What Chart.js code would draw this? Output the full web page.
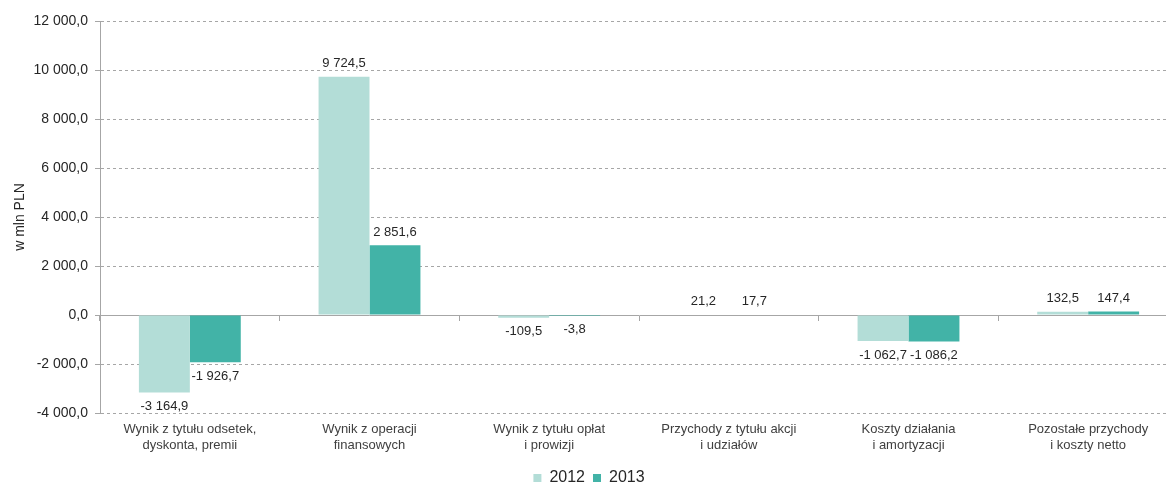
<!DOCTYPE html>
<html>
<head>
<meta charset="utf-8">
<script src="https://cdn.jsdelivr.net/npm/chart.js@4/dist/chart.umd.min.js"></script>
<style>
  html, body { margin: 0; padding: 0; background: #fff; overflow: hidden; }
  #wrap { position: relative; width: 1180px; height: 484px; }
</style>
</head>
<body>
<div id="wrap"><canvas id="chart"></canvas></div>
<script>
  var categories = [
    ['Wynik z tytułu odsetek,', 'dyskonta, premii'],
    ['Wynik z operacji', 'finansowych'],
    ['Wynik z tytułu opłat', 'i prowizji'],
    ['Przychody z tytułu akcji', 'i udziałów'],
    ['Koszty działania', 'i amortyzacji'],
    ['Pozostałe przychody', 'i koszty netto']
  ];
  var seriesNames = ['2012', '2013'];
  var values2012 = [-3164.9, 9724.5, -109.5, 21.2, -1062.7, 132.5];
  var values2013 = [-1926.7, 2851.6, -3.8, 17.7, -1086.2, 147.4];
  var yMin = -4000, yMax = 12000, yStep = 2000;

  var textColor = '#262626';
  var lineColor = '#a6a6a6';
  var fontFamily = '"Liberation Sans", Arial, sans-serif';
  var bottomPad = -12;

  // 12 000,0 style
  function fmt(v) {
    var s = Math.abs(v).toFixed(1).split('.');
    var ip = s[0].replace(/\B(?=(\d{3})+(?!\d))/g, ' ');
    return (v < 0 ? '-' : '') + ip + ',' + s[1];
  }

  var barLabels = {
    id: 'barLabels',
    afterDatasetsDraw: function (chart) {
      var ctx = chart.ctx;
      ctx.save();
      ctx.font = '13px ' + fontFamily;
      ctx.fillStyle = textColor;
      ctx.textAlign = 'center';
      ctx.textBaseline = 'middle';
      chart.data.datasets.forEach(function (ds, i) {
        var meta = chart.getDatasetMeta(i);
        meta.data.forEach(function (bar, j) {
          var v = ds.data[j];
          var y = v >= 0 ? bar.y - 13 : bar.y + 14;
          ctx.fillText(fmt(v), bar.x, y);
        });
      });
      ctx.restore();
    }
  };

  var ctx = document.getElementById('chart').getContext('2d');
  new Chart(ctx, {
    type: 'bar',
    data: {
      labels: categories,
      datasets: [
        { label: seriesNames[0], data: values2012, backgroundColor: '#b3ddd7' },
        { label: seriesNames[1], data: values2013, backgroundColor: '#42b3a7' }
      ]
    },
    options: {
      responsive: true,
      maintainAspectRatio: false,
      animation: false,
      events: [],
      categoryPercentage: 0.567,
      barPercentage: 1.0,
      layout: { padding: { top: 21, right: 2, left: 0, bottom: bottomPad } },
      plugins: {
        tooltip: { enabled: false },
        legend: {
          position: 'bottom',
          labels: {
            boxWidth: 8,
            boxHeight: 8,
            padding: 8,
            color: textColor,
            font: { family: fontFamily, size: 16 }
          }
        }
      },
      scales: {
        x: {
          grid: { display: false, drawTicks: false },
          border: { display: false },
          ticks: {
            color: '#404040',
            padding: 9,
            maxRotation: 0,
            autoSkip: false,
            font: { family: fontFamily, size: 13 }
          },
          afterFit: function (s) {
            // keep the plot bottom at 413px like the original
            s.height = s.chart.height - bottomPad - 413 - s.chart.legend.height;
          }
        },
        x2: {
          type: 'category',
          axis: 'x',
          position: { y: 0 },
          offset: true,
          labels: categories,
          grid: {
            offset: true,
            drawOnChartArea: false,
            drawTicks: true,
            tickLength: 5,
            tickColor: lineColor
          },
          border: { color: lineColor, width: 1 },
          ticks: { display: false }
        },
        y: {
          min: yMin,
          max: yMax,
          ticks: {
            stepSize: yStep,
            color: textColor,
            padding: 7,
            font: { family: fontFamily, size: 14 },
            callback: function (v) { return fmt(v); }
          },
          grid: {
            color: function (c) { return c.tick && c.tick.value === 0 ? 'rgba(0,0,0,0)' : lineColor; },
            tickColor: lineColor,
            tickLength: 5,
            tickBorderDash: []
          },
          border: { color: lineColor, width: 1, dash: [3, 3] },
          title: {
            display: true,
            text: 'w mln PLN',
            color: textColor,
            padding: { top: 12, bottom: 0 },
            font: { family: fontFamily, size: 14 }
          },
          afterFit: function (s) { s.width = 100; }
        }
      }
    },
    plugins: [barLabels]
  });
</script>
</body>
</html>
